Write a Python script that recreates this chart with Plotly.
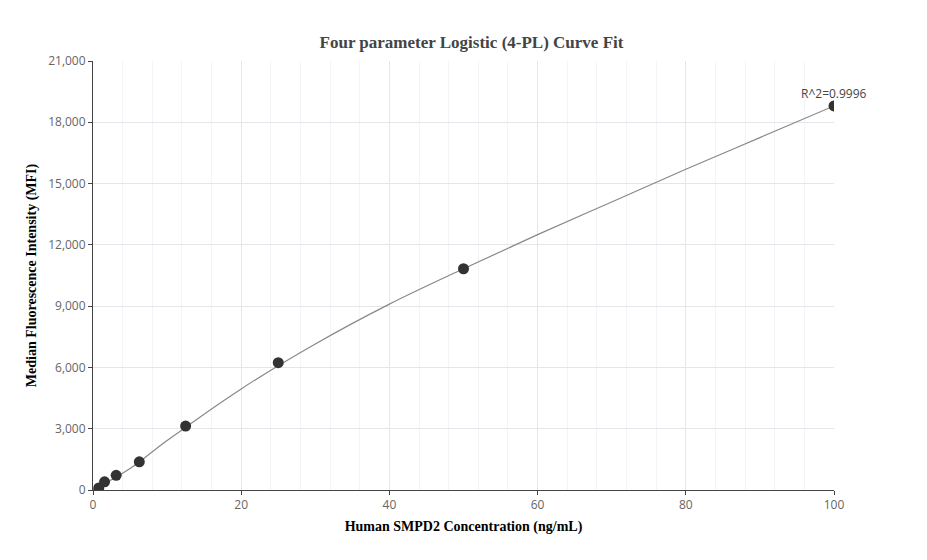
import plotly.graph_objects as go

conc = [0.78, 1.56, 3.125, 6.25, 12.5, 25, 50, 100]
mfi = [100, 400, 720, 1380, 3130, 6230, 10830, 18800]

fit_x = [0, 5, 10, 20, 30, 40, 50, 60, 70, 80, 90, 100]
fit_y = [0, 1050, 2420, 4950, 7150, 9100, 10830, 12500, 14100, 15700, 17250, 18800]

fig = go.Figure()
fig.add_trace(go.Scatter(x=fit_x, y=fit_y, mode="lines", line=dict(color="#888888", width=1.2, shape="spline"),
                         hoverinfo="skip", showlegend=False))
fig.add_trace(go.Scatter(x=conc, y=mfi, mode="markers", marker=dict(color="#333333", size=11),
                         showlegend=False))
fig.add_annotation(x=100, y=mfi[-1], text="R^2=0.9996", showarrow=False, yshift=12, xanchor="center",
                   font=dict(family="Open Sans", size=12, color="#444"))

fig.update_layout(
    width=927, height=560, plot_bgcolor="white", paper_bgcolor="white",
    margin=dict(l=85, r=101, t=53, b=78, autoexpand=False),
    title=dict(text="<b>Four parameter Logistic (4-PL) Curve Fit</b>", x=0.5, y=0.94, yanchor="middle",
               font=dict(family="Times New Roman", size=17, color="#444")),
    xaxis=dict(range=[0, 100], dtick=20, showline=True, linecolor="#444", linewidth=1,
               gridcolor="#e3e6ea", zeroline=False, ticks="outside", ticklen=4, tickcolor="#444",
               minor=dict(dtick=4, showgrid=True, gridcolor="#f3f4f6"), automargin=False,
               tickfont=dict(family="Open Sans", size=12, color="#666"),
               title=dict(text="<b>Human SMPD2 Concentration (ng/mL)</b>", standoff=8,
                          font=dict(family="Times New Roman", size=14, color="#000"))),
    yaxis=dict(range=[0, 21000], dtick=3000, tickformat=",", showline=True, linecolor="#444", linewidth=1,
               gridcolor="#e3e6ea", zeroline=False, ticks="outside", ticklen=4, tickcolor="#444",
               automargin=False,
               tickfont=dict(family="Open Sans", size=12, color="#666"),
               title=dict(text="<b>Median Fluorescence Intensity (MFI)</b>", standoff=8,
                          font=dict(family="Times New Roman", size=14, color="#000"))),
)
fig.write_html("out.html")
